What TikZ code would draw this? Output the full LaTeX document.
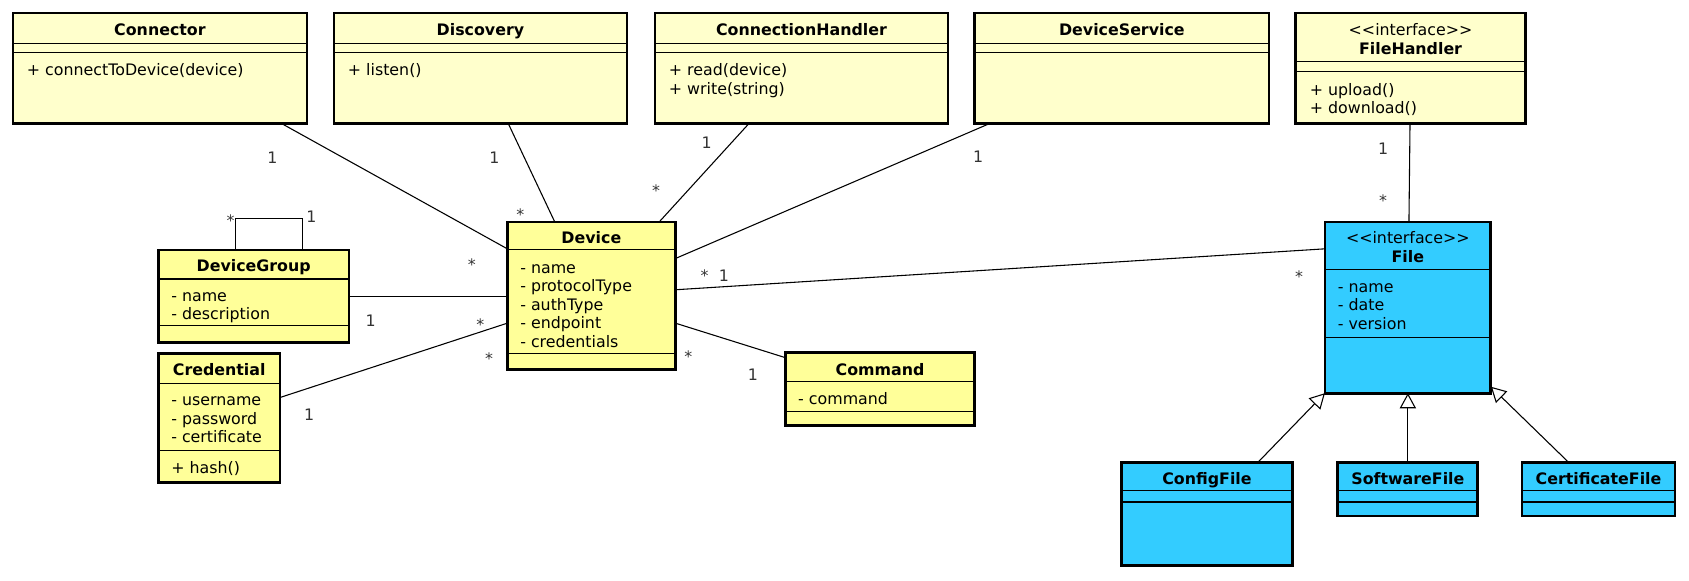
\documentclass[tikz,border=0pt]{standalone}
\usepackage{fontspec}
\setmainfont{DejaVu Sans}
\usetikzlibrary{arrows.meta,calc}
\definecolor{lightyel}{HTML}{FFFFCC}
\definecolor{yel}{HTML}{FFFF99}
\definecolor{blu}{HTML}{33CCFF}
\newcommand\mkclass[6]{\node[cls, fill=#6, minimum width={(#4)-(#2)}, minimum height={(#5)-(#3)}] (#1) at ({((#2)+(#4))/2},{((#3)+(#5))/2}) {};}
\newcommand\mklines[4]{\foreach \t [count=\i from 0] in {#4}{\node[txt,anchor=base west] (#1\i) at (#2,{#3+1.5+17.2*\i}) {\t};}}
\newcommand\sepline[3]{\draw[sepl] (#1,#3) -- (#2,#3);}
\begin{document}
\begin{tikzpicture}[x=1pt,y=-1pt,
  every node/.style={font=\fontsize{14.7pt}{17.2pt}\selectfont},
  cls/.style={draw=black, line width=2.6pt, inner sep=0pt, outer sep=0pt},
  sepl/.style={draw=black, line width=1pt},
  txt/.style={inner sep=0pt, outer sep=0pt},
  ttl/.style={inner sep=0pt, outer sep=0pt, anchor=base, yshift=-1.5pt, font=\fontsize{14.7pt}{17.2pt}\selectfont\bfseries},
  conn/.style={draw=black, line width=1pt},
  inh/.style={draw=black, line width=1pt, -{Triangle[length=14pt,width=15pt,fill=white,line width=1pt]}},
  mult/.style={inner sep=0pt, outer sep=0pt, anchor=base, text=black!80}]
\useasboundingbox (0,0) rectangle (1568,539);

% ---- classes ----
\mkclass{connector}{12}{12}{285}{115}{lightyel}
\sepline{12}{285}{40}\sepline{12}{285}{49}
\node[ttl] (connectorT) at (148.5,31) {Connector};
\mklines{connectorM}{25}{69}{+ connectToDevice(device)}

\mkclass{discovery}{310}{12}{582}{115}{lightyel}
\sepline{310}{582}{40}\sepline{310}{582}{49}
\node[ttl] (discoveryT) at (446,31) {Discovery};
\mklines{discoveryM}{323}{69}{+ listen()}

\mkclass{connhandler}{608}{12}{880}{115}{lightyel}
\sepline{608}{880}{40}\sepline{608}{880}{49}
\node[ttl] (connhandlerT) at (744,31) {ConnectionHandler};
\mklines{connhandlerM}{621}{69}{+ read(device),+ write(string)}

\mkclass{deviceservice}{905}{12}{1178}{115}{lightyel}
\sepline{905}{1178}{40}\sepline{905}{1178}{49}
\node[ttl] (deviceserviceT) at (1041.5,31) {DeviceService};

\mkclass{filehandler}{1203}{12}{1416}{115}{lightyel}
\sepline{1203}{1416}{57}\sepline{1203}{1416}{66}
\node[txt,anchor=base,yshift=-1.5pt] (filehandlerS) at (1309.5,31) {<\kern0pt<interface>\kern0pt>};
\node[ttl] (filehandlerT) at (1309.5,49) {FileHandler};
\mklines{filehandlerM}{1216}{87}{+ upload(),+ download()}

\mkclass{devicegroup}{147}{232}{324}{318}{yel}
\sepline{147}{324}{259}\sepline{147}{324}{302}
\node[ttl] (devicegroupT) at (235.5,251) {DeviceGroup};
\mklines{devicegroupA}{159}{278}{- name,- description}

\mkclass{credential}{147}{328}{260}{448}{yel}
\sepline{147}{260}{356}\sepline{147}{260}{418}
\node[ttl] (credentialT) at (203.5,347) {Credential};
\mklines{credentialA}{159}{375}{- username,- password,- certificate}
\mklines{credentialM}{159}{438}{+ hash()}

\mkclass{device}{471}{206}{627}{343}{yel}
\sepline{471}{627}{232}\sepline{471}{627}{328}
\node[ttl] (deviceT) at (549,225) {Device};
\mklines{deviceA}{483}{252}{- name,- protocolType,- authType,- endpoint,- credentials}

\mkclass{command}{729}{327}{905}{395}{yel}
\sepline{729}{905}{354}\sepline{729}{905}{382}
\node[ttl] (commandT) at (817,347) {Command};
\mklines{commandA}{741}{374}{- command}

\mkclass{file}{1230}{206}{1384}{365}{blu}
\sepline{1230}{1384}{250}\sepline{1230}{1384}{313}
\node[txt,anchor=base,yshift=-1.5pt] (fileS) at (1307,225) {<\kern0pt<interface>\kern0pt>};
\node[ttl] (fileT) at (1307,242) {File};
\mklines{fileA}{1242}{270}{- name,- date,- version}

\mkclass{configfile}{1041}{429}{1200}{525}{blu}
\sepline{1041}{1200}{455}\sepline{1041}{1200}{466}
\node[ttl] (configfileT) at (1120.5,448) {ConfigFile};

\mkclass{softwarefile}{1242}{429}{1372}{479}{blu}
\sepline{1242}{1372}{455}\sepline{1242}{1372}{466}
\node[ttl] (softwarefileT) at (1307,448) {SoftwareFile};

\mkclass{certfile}{1413}{429}{1555}{479}{blu}
\sepline{1413}{1555}{455}\sepline{1413}{1555}{466}
\node[ttl] (certfileT) at (1484,448) {CertificateFile};

% ---- associations ----
\draw[conn] ([xshift=250pt]connector.south west) -- ([yshift=-25pt]device.north west);
\draw[conn] ([xshift=162pt]discovery.south west) -- ([xshift=44pt]device.north west);
\draw[conn] ([xshift=87pt]connhandler.south west) -- ([xshift=141pt]device.north west);
\draw[conn] ([xshift=13pt]deviceservice.south west) -- ([yshift=-34pt]device.north east);
\draw[conn] ([xshift=106pt]filehandler.south west) -- ([xshift=78pt]file.north west);
\draw[conn] (devicegroup.east) -- (devicegroup.east -| device.west);
\draw[conn] ([yshift=-41pt]credential.north east) -- ([yshift=-94pt]device.north west);
\draw[conn] ([yshift=-94pt]device.north east) -- ([yshift=-5pt]command.north west);
\draw[conn] ([yshift=-63pt]device.north east) -- ([yshift=-25pt]file.north west);
\draw[conn] ([xshift=72pt]devicegroup.north west) -- ++(0,-29) -| ([xshift=134pt]devicegroup.north west);

% ---- generalisations ----
\draw[inh] ([xshift=127pt]configfile.north west) -- (file.south west);
\draw[inh] (softwarefile.north) -- (softwarefile.north |- file.south);
\draw[inh] ([xshift=43pt]certfile.north west) -- ([yshift=6pt]file.south east);

% ---- multiplicities ----
\node[mult] (m1) at (253,151.4) {1};
\node[mult] (m2) at (438,250.7) {*};
\node[mult] (m3) at (459,151.4) {1};
\node[mult] (m4) at (483,204.7) {*};
\node[mult] (m5) at (656,137.4) {1};
\node[mult] (m6) at (609,182.7) {*};
\node[mult] (m7) at (908,150.4) {1};
\node[mult] (m8) at (654,261.7) {*};
\node[mult] (m9) at (1284,143.4) {1};
\node[mult] (m10) at (1284,191.7) {*};
\node[mult] (m11) at (214,210.7) {*};
\node[mult] (m12) at (289,206.4) {1};
\node[mult] (m13) at (344,303.4) {1};
\node[mult] (m14) at (446,306.7) {*};
\node[mult] (m15) at (287,390.4) {1};
\node[mult] (m16) at (454,338.7) {*};
\node[mult] (m17) at (639,336.7) {*};
\node[mult] (m18) at (699,353.4) {1};
\node[mult] (m19) at (672,261.4) {1};
\node[mult] (m20) at (1206,262.7) {*};
\end{tikzpicture}
\end{document}
